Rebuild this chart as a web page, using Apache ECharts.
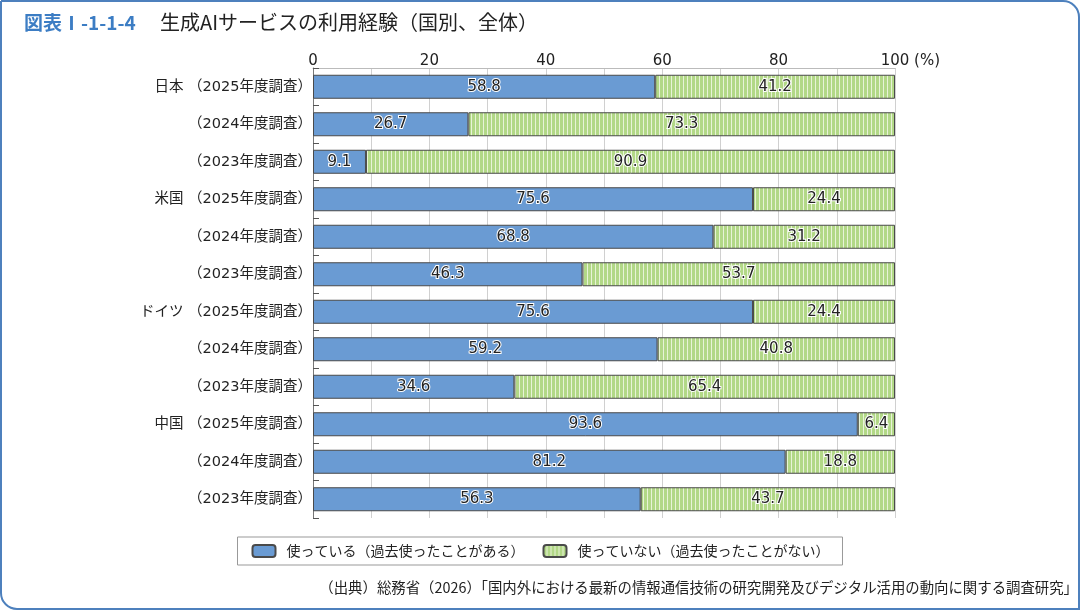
<!DOCTYPE html>
<html><head><meta charset="utf-8">
<script src="https://cdn.jsdelivr.net/npm/echarts@6/dist/echarts.min.js"></script>
<style>html,body{margin:0;padding:0;background:#fff}#c{width:1081px;height:611px}</style>
</head><body><div id="c"></div>
<script>
const countries = ['日本','','','米国','','','ドイツ','','','中国','',''];
const years = ['2025','2024','2023','2025','2024','2023','2025','2024','2023','2025','2024','2023'];
const usedValues = [58.8,26.7,9.1,75.6,68.8,46.3,75.6,59.2,34.6,93.6,81.2,56.3];
const notUsedValues = [41.2,73.3,90.9,24.4,31.2,53.7,24.4,40.8,65.4,6.4,18.8,43.7];
const seriesNames = ['使っている（過去使ったことがある）','使っていない（過去使ったことがない）'];
const xTickLabels = {0:'0',20:'20',40:'40',60:'60',80:'80',100:'100'};
const unitLabel = ' (%)';

const categories = countries.map((c,i)=>(c ? c + ' ' : '') + '（' + years[i] + '年度調査）');
const JP = '"Noto Sans CJK JP", "Noto Sans", sans-serif';
const NUM = '"DejaVu Sans", "Noto Sans CJK JP", sans-serif';

// stripe pattern for green bars
const pc = document.createElement('canvas');
pc.width = 4; pc.height = 4;
const pctx = pc.getContext('2d');
pctx.fillStyle = '#b2d887'; pctx.fillRect(0,0,4,4);
pctx.fillStyle = '#e8f3d8'; pctx.fillRect(3,0,1,4);

const chart = echarts.init(document.getElementById('c'), null, {renderer:'canvas'});
const labelStyle = {
  show: true, position: 'inside', fontSize: 15, color: '#222', fontFamily: NUM,
  textBorderColor: '#fff', textBorderWidth: 2,
  formatter: p => p.value.toFixed(1)
};
chart.setOption({
  animation: false,
  textStyle: {fontFamily: JP},
  title: [
    {text: '図表Ⅰ-1-1-4', left: 19, top: 8, textStyle: {fontSize: 19, fontWeight: 'bold', color: '#3c7dc4', fontFamily: JP}},
    {text: '生成AIサービスの利用経験（国別、全体）', left: 155, top: 7, textStyle: {fontSize: 20, fontWeight: 'normal', color: '#222', fontFamily: JP}}
  ],
  graphic: [
    {type: 'rect', shape: {x: 1, y: 1, width: 1078, height: 608, r: [0,16,0,16]}, style: {fill: 'none', stroke: '#4d80bd', lineWidth: 2}, z: 100},
    {type: 'text', right: 3, top: 580, style: {text: '（出典）総務省（2026）「国内外における最新の情報通信技術の研究開発及びデジタル活用の動向に関する調査研究」', fill: '#222', font: '14.4px ' + JP}}
  ],
  grid: {left: 313, right: 186, top: 68, bottom: 93},
  legend: {
    top: 537, left: 'center',
    data: seriesNames,
    itemWidth: 23, itemHeight: 12, itemGap: 18,
    borderColor: '#999', borderWidth: 1, padding: [7, 13, 7, 14],
    textStyle: {fontSize: 14, color: '#222', fontFamily: JP, padding: [0, 0, 0, 6]}
  },
  xAxis: {
    type: 'value', position: 'top', min: 0, max: 100, interval: 10,
    axisLine: {show: true, lineStyle: {color: '#bbb'}},
    axisTick: {show: false},
    axisLabel: {
      fontSize: 15, color: '#222', margin: -1, fontFamily: NUM,
      formatter: v => {
        if (xTickLabels[v] === undefined) return '';
        if (v === 100) return '{h|' + unitLabel + '}' + xTickLabels[v] + '{u|' + unitLabel + '}';
        return xTickLabels[v];
      },
      rich: {
        h: {fontSize: 15, fontFamily: NUM, color: 'rgba(0,0,0,0)'},
        u: {fontSize: 15, fontFamily: NUM, color: '#222'}
      }
    },
    splitLine: {show: true, lineStyle: {color: '#d0d0d0', width: 1}}
  },
  yAxis: {
    type: 'category', inverse: true, data: categories,
    axisLine: {show: true, lineStyle: {color: '#777'}},
    axisTick: {show: true, inside: true, length: 6, lineStyle: {color: '#555'}},
    axisLabel: {fontSize: 14.5, color: '#222', margin: 1, fontFamily: NUM}
  },
  series: [
    {name: seriesNames[0], type: 'bar', stack: 'a', barWidth: 24, data: usedValues,
     itemStyle: {color: '#6a9bd3', borderColor: '#4a4a4a', borderWidth: 1}, label: labelStyle},
    {name: seriesNames[1], type: 'bar', stack: 'a', barWidth: 24, data: notUsedValues,
     itemStyle: {color: {image: pc, repeat: 'repeat'}, borderColor: '#4a4a4a', borderWidth: 1}, label: labelStyle}
  ]
});
</script></body></html>
